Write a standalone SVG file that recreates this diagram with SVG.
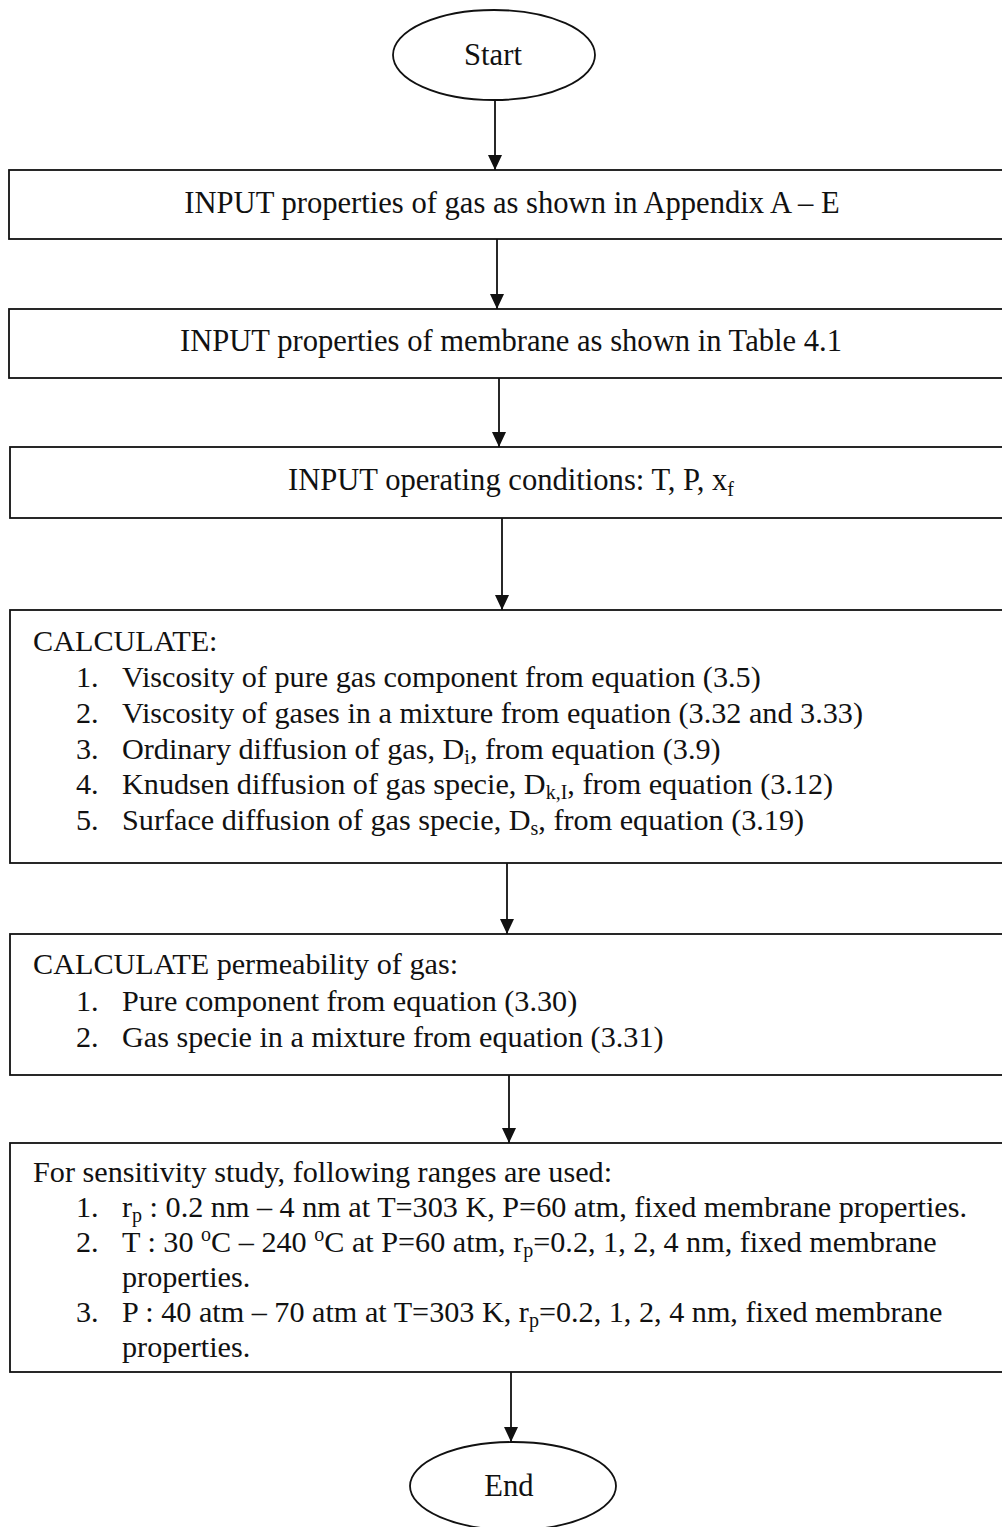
<svg xmlns="http://www.w3.org/2000/svg" width="1002" height="1527" viewBox="0 0 1002 1527">
<style>
.b{fill:#fff;stroke:#111;stroke-width:1.8}
.t{font-family:"Liberation Serif","Times New Roman",serif;font-size:30.2px;fill:#111}
.m{text-anchor:middle;font-size:30.6px}
.c{stroke:#111;stroke-width:1.8;fill:none}
</style>
<defs>
<marker id="ah" markerUnits="userSpaceOnUse" markerWidth="16" markerHeight="16" viewBox="0 0 16 16" refX="15" refY="8" orient="auto">
<path d="M0,1 L15,8 L0,15 Z" fill="#111"/>
</marker>
</defs>
<rect width="1002" height="1527" fill="#fff"/>
<g id="start">
<ellipse class="b" cx="494" cy="55" rx="101" ry="45"/>
<text class="t m" x="493" y="65">Start</text>
</g>
<g id="input-gas">
<rect class="b" x="9" y="170" width="1003" height="69"/>
<text class="t m" x="512" y="213">INPUT properties of gas as shown in Appendix A – E</text>
</g>
<g id="input-membrane">
<rect class="b" x="9" y="309" width="1003" height="69"/>
<text class="t m" x="511" y="351">INPUT properties of membrane as shown in Table 4.1</text>
</g>
<g id="input-conditions">
<rect class="b" x="10" y="447" width="1003" height="71"/>
<text class="t m" x="511" y="490">INPUT operating conditions: T, P, x<tspan font-size="20" dy="6">f</tspan></text>
</g>
<g id="calculate">
<rect class="b" x="10" y="610" width="1003" height="253"/>
<text class="t" x="33" y="651">CALCULATE:</text>
<text class="t" x="76" y="687">1.</text>
<text class="t" x="122" y="687">Viscosity of pure gas component from equation (3.5)</text>
<text class="t" x="76" y="723">2.</text>
<text class="t" x="122" y="723">Viscosity of gases in a mixture from equation (3.32 and 3.33)</text>
<text class="t" x="76" y="759">3.</text>
<text class="t" x="122" y="759">Ordinary diffusion of gas, D<tspan font-size="20" dy="5">i</tspan><tspan dy="-5">, from equation (3.9)</tspan></text>
<text class="t" x="76" y="794">4.</text>
<text class="t" x="122" y="794">Knudsen diffusion of gas specie, D<tspan font-size="20" dy="5">k,I</tspan><tspan dy="-5">, from equation (3.12)</tspan></text>
<text class="t" x="76" y="830">5.</text>
<text class="t" x="122" y="830">Surface diffusion of gas specie, D<tspan font-size="20" dy="5">s</tspan><tspan dy="-5">, from equation (3.19)</tspan></text>
</g>
<g id="permeability">
<rect class="b" x="10" y="934" width="1003" height="141"/>
<text class="t" x="33" y="974">CALCULATE permeability of gas:</text>
<text class="t" x="76" y="1011">1.</text>
<text class="t" x="122" y="1011">Pure component from equation (3.30)</text>
<text class="t" x="76" y="1047">2.</text>
<text class="t" x="122" y="1047">Gas specie in a mixture from equation (3.31)</text>
</g>
<g id="sensitivity">
<rect class="b" x="10" y="1143" width="1003" height="229"/>
<text class="t" x="33" y="1182">For sensitivity study, following ranges are used:</text>
<text class="t" x="76" y="1217">1.</text>
<text class="t" x="122" y="1217">r<tspan font-size="20" dy="5">p</tspan><tspan dy="-5"> : 0.2 nm – 4 nm at T=303 K, P=60 atm, fixed membrane properties.</tspan></text>
<text class="t" x="76" y="1252">2.</text>
<text class="t" x="122" y="1252">T : 30 <tspan font-size="20" dy="-11">o</tspan><tspan dy="11">C – 240 </tspan><tspan font-size="20" dy="-11">o</tspan><tspan dy="11">C at P=60 atm, r</tspan><tspan font-size="20" dy="5">p</tspan><tspan dy="-5">=0.2, 1, 2, 4 nm, fixed membrane</tspan></text>
<text class="t" x="122" y="1287">properties.</text>
<text class="t" x="76" y="1322">3.</text>
<text class="t" x="122" y="1322">P : 40 atm – 70 atm at T=303 K, r<tspan font-size="20" dy="5">p</tspan><tspan dy="-5">=0.2, 1, 2, 4 nm, fixed membrane</tspan></text>
<text class="t" x="122" y="1357">properties.</text>
</g>
<g id="end">
<ellipse class="b" cx="513" cy="1486" rx="103" ry="44"/>
<text class="t m" x="509" y="1496">End</text>
</g>
<g id="connectors">
<line class="c" x1="495" y1="100" x2="495" y2="170" marker-end="url(#ah)"/>
<line class="c" x1="497" y1="239" x2="497" y2="309" marker-end="url(#ah)"/>
<line class="c" x1="499" y1="378" x2="499" y2="447" marker-end="url(#ah)"/>
<line class="c" x1="502" y1="518" x2="502" y2="610" marker-end="url(#ah)"/>
<line class="c" x1="507" y1="863" x2="507" y2="934" marker-end="url(#ah)"/>
<line class="c" x1="509" y1="1075" x2="509" y2="1143" marker-end="url(#ah)"/>
<line class="c" x1="511" y1="1372" x2="511" y2="1442" marker-end="url(#ah)"/>
</g>
</svg>
